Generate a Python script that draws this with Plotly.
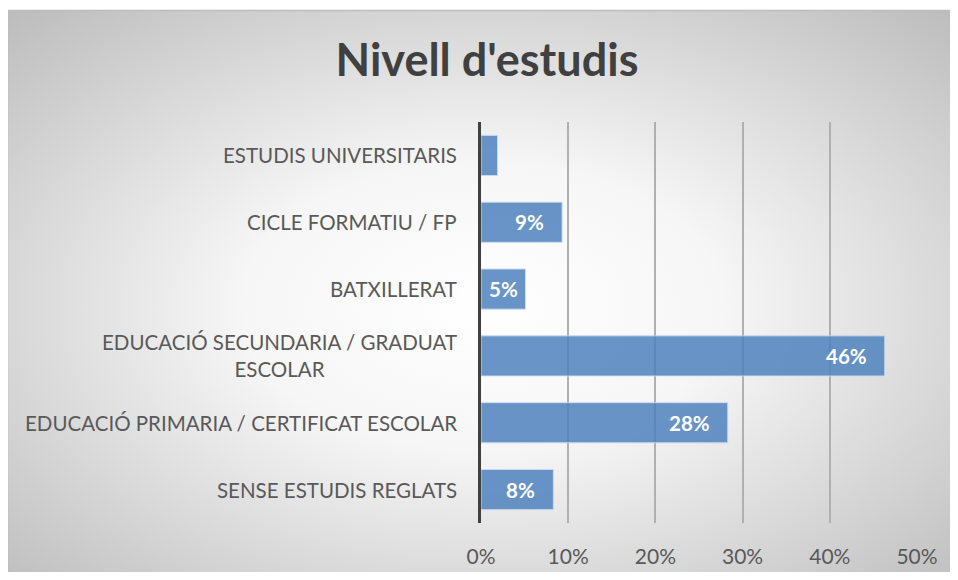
import base64
import plotly.graph_objects as go

# ---- data ----
categories = [
    "SENSE ESTUDIS REGLATS",
    "EDUCACIÓ PRIMARIA / CERTIFICAT ESCOLAR",
    "EDUCACIÓ SECUNDARIA / GRADUAT ESCOLAR",
    "BATXILLERAT",
    "CICLE FORMATIU / FP",
    "ESTUDIS UNIVERSITARIS",
]
category_labels = [
    "SENSE ESTUDIS REGLATS",
    "EDUCACIÓ PRIMARIA / CERTIFICAT ESCOLAR",
    "EDUCACIÓ SECUNDARIA / GRADUAT<br>ESCOLAR",
    "BATXILLERAT",
    "CICLE FORMATIU / FP",
    "ESTUDIS UNIVERSITARIS",
]
values = [0.083, 0.283, 0.463, 0.051, 0.093, 0.019]
x_ticks = [0, 0.1, 0.2, 0.3, 0.4, 0.5]
title_text = "Nivell d'estudis"

# ---- layout geometry (figure pixels; page has an 8px body margin) ----
W, H = 942, 564
L, R, T, B = 473, 33, 114, 49
pw, ph = W - L - R, H - T - B
x_max = 0.5


def px_to_paper_x(px):
    return (px - L) / pw


def py_to_paper_y(py):
    return (H - B - py) / ph


svg = (
    '<svg xmlns="http://www.w3.org/2000/svg" width="950" height="570" '
    'preserveAspectRatio="none" viewBox="0 0 950 570">'
    '<defs><radialGradient id="g" cx="50%" cy="52%" r="72%">'
    '<stop offset="0" stop-color="#ffffff"/>'
    '<stop offset="0.35" stop-color="#f6f6f6"/>'
    '<stop offset="1" stop-color="#bcbcbc"/>'
    '</radialGradient></defs>'
    '<rect width="950" height="570" fill="url(#g)"/></svg>'
)
src = "data:image/svg+xml;base64," + base64.b64encode(svg.encode()).decode()

bx0, by0 = 0, 2
fig = go.Figure()
fig.add_trace(
    go.Bar(
        y=categories,
        x=values,
        orientation="h",
        width=0.6,
        marker=dict(
            color="rgba(79,129,189,0.85)",
            line=dict(color="rgba(205,220,240,0.9)", width=1),
        ),
        hoverinfo="skip",
    )
)

annotations = []
for cat, lab in zip(categories, category_labels):
    annotations.append(
        dict(
            x=0, xref="paper", y=cat, yref="y",
            text=lab, showarrow=False,
            xanchor="right", yanchor="middle", align="center",
            xshift=-22,
            font=dict(family="Lato", size=20.5, color="#595959"),
        )
    )

# value labels inside the bars
for cat, v in zip(categories, values):
    bar_px = v / x_max * pw
    if bar_px < 30:
        continue
    shift = -16 if bar_px > 60 else -5
    annotations.append(
        dict(
            x=v, xref="x", y=cat, yref="y",
            text=f"{v:.0%}", showarrow=False,
            xanchor="right", yanchor="middle", xshift=shift,
            font=dict(family="Lato", size=20.5, color="white", weight="bold"),
        )
    )

fig.update_layout(
    width=W, height=H,
    margin=dict(l=L, r=R, t=T, b=B, autoexpand=False),
    paper_bgcolor="white",
    plot_bgcolor="rgba(0,0,0,0)",
    showlegend=False,
    title=dict(
        text=title_text,
        x=479 / W, xref="container", xanchor="center",
        y=1 - 52 / H, yref="container", yanchor="middle",
        font=dict(family="Lato", size=45, color="#404040", weight="bold"),
    ),
    xaxis=dict(
        range=[0, x_max],
        tickvals=x_ticks,
        tickformat=".0%",
        showgrid=True,
        gridcolor="#b0b0b0",
        gridwidth=1.5,
        zeroline=False,
        showline=False,
        ticks="",
        ticklabelstandoff=19,
        tickfont=dict(family="Lato", size=21, color="#595959"),
        automargin=False,
        fixedrange=True,
    ),
    yaxis=dict(
        categoryorder="array",
        categoryarray=categories,
        showticklabels=False,
        showgrid=False,
        zeroline=False,
        showline=True,
        linecolor="#404040",
        linewidth=3,
        ticks="",
        automargin=False,
        fixedrange=True,
    ),
    annotations=annotations,
    images=[
        dict(
            source=src,
            xref="paper", yref="paper",
            x=px_to_paper_x(bx0), y=py_to_paper_y(by0),
            sizex=px_to_paper_x(W + 8) - px_to_paper_x(bx0),
            sizey=py_to_paper_y(by0) - py_to_paper_y(H + 8),
            xanchor="left", yanchor="top",
            sizing="stretch", layer="below",
        )
    ],
    shapes=[
        dict(
            type="rect", xref="paper", yref="paper",
            x0=px_to_paper_x(bx0 - 0.5), x1=px_to_paper_x(W + 5),
            y0=py_to_paper_y(H + 5), y1=py_to_paper_y(by0 + 0.5),
            line=dict(color="#bdbdbd", width=1.5),
            fillcolor="rgba(0,0,0,0)", layer="below",
        )
    ],
)

fig.write_html("out.html")
